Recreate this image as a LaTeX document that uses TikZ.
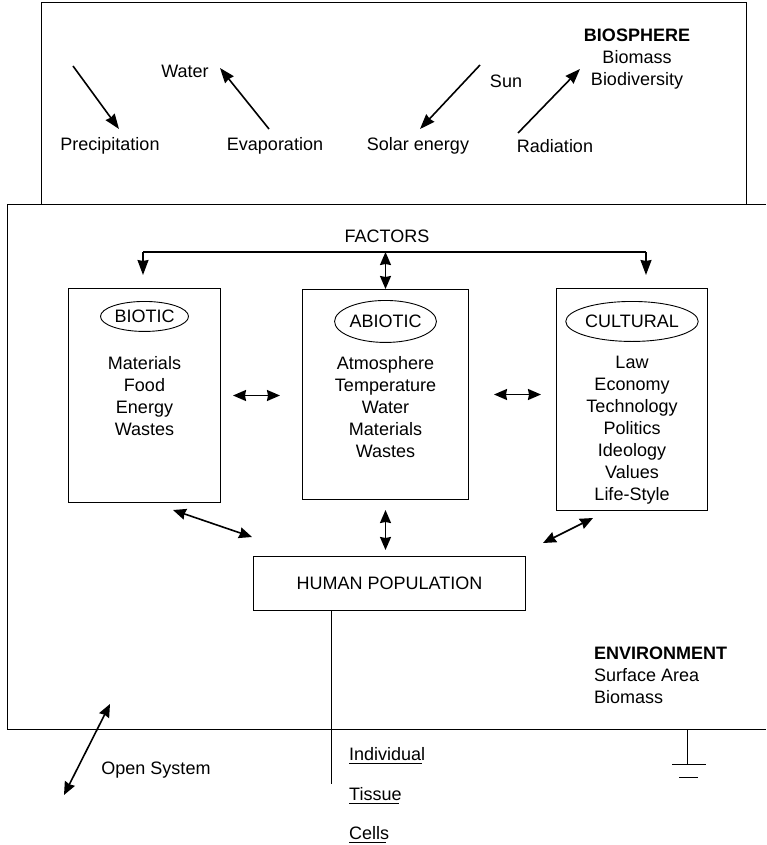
\documentclass[tikz,border=0pt]{standalone}
\usepackage{fontspec}
\setmainfont{Liberation Sans}
\usetikzlibrary{arrows.meta,positioning,shapes.geometric}

\begin{document}
\begin{tikzpicture}[
    x=1pt, y=-1pt,
    font=\fontsize{18}{22}\selectfont,
    frame/.style={line width=1pt},
    panel/.style={draw, line width=1pt, anchor=north west, inner sep=0pt},
    tag/.style={draw, ellipse, line width=0.9pt, inner sep=0pt},
    items/.style={align=center, inner sep=0pt},
    lbl/.style={inner sep=0pt},
    arr/.style={-{Stealth[length=15pt,width=11pt,inset=1pt]}, line width=1.6pt},
    dbl/.style={{Stealth[length=13pt,width=11pt,inset=1pt]}-{Stealth[length=13pt,width=11pt,inset=1pt]}, line width=1.6pt},
    uline/.style={line width=1.6pt, shorten >=3pt}
  ]
  \useasboundingbox (0,0) rectangle (766,845);

  % biosphere
  \draw[frame] (41,3) rectangle (746,204);
  \node[lbl] (water) at (185,71) {Water};
  \node[lbl] (precip) at (110,146) {Precipitation};
  \node[lbl] (evap) at (275,146) {Evaporation};
  \node[lbl] (sun) at (506,81) {Sun};
  \node[lbl] (solar) at (418,146) {Solar energy};
  \node[lbl] (rad) at (555,146) {Radiation};
  \node[lbl, align=center, anchor=north] (bio) at (637,29) {{\bfseries BIOSPHERE}\\Biomass\\Biodiversity};
  \coordinate (rainA) at (73,66);   \coordinate (rainB) at (119,129);
  \coordinate (evapA) at (269,129); \coordinate (evapB) at (220,68);
  \coordinate (sunA) at (480,65);   \coordinate (sunB) at (420,129);
  \coordinate (radA) at (518,133);  \coordinate (radB) at (580,69);
  \draw[arr] (rainA) -- (rainB);
  \draw[arr] (evapA) -- (evapB);
  \draw[arr] (sunA) -- (sunB);
  \draw[arr] (radA) -- (radB);

  % environment
  \draw[frame] (766,204) -| (7,729) -- (766,729);
  \node[lbl] (factors) at (387,236) {FACTORS};
  \node[panel, minimum width=152, minimum height=214] (biotic) at (68,288) {};
  \node[panel, minimum width=166, minimum height=210] (abiotic) at (302,289) {};
  \node[panel, minimum width=151, minimum height=222] (cultural) at (556,288) {};
  \node[tag, minimum width=88, minimum height=30, below=13pt of biotic.north] (bioticTag) {BIOTIC};
  \node[tag, minimum width=94, minimum height=42, below=11pt of abiotic.north] (abioticTag) {ABIOTIC};
  \node[tag, minimum width=110, minimum height=40, below=13pt of cultural.north] (culturalTag) {CULTURAL};
  \node[items, below=68pt of biotic.north] (bioticList) {Materials\\Food\\Energy\\Wastes};
  \node[items, below=67pt of abiotic.north] (abioticList) {Atmosphere\\Temperature\\Water\\Materials\\Wastes};
  \node[items, below=68pt of cultural.north] (culturalList) {Law\\Economy\\Technology\\Politics\\Ideology\\Values\\Life-Style};
  \node[panel, minimum width=272, minimum height=54] (hp) at (253,556) {HUMAN POPULATION};

  \coordinate (barL) at (143,252);
  \coordinate (barR) at (646,252);
  \draw[line width=1.2pt] (barL) -- (barR);
  \draw[arr, shorten >=13pt] (barL) -- (barL |- biotic.north);
  \draw[arr, shorten >=13pt] (barR) -- (barR |- cultural.north);
  \draw[dbl] (barL -| abiotic.north) -- (abiotic.north);
  \draw[dbl, shorten <=12pt, shorten >=22pt] (biotic.east) -- (biotic.east -| abiotic.west);
  \draw[dbl, shorten <=25pt, shorten >=15pt] (abiotic.east) -- (abiotic.east -| cultural.west);
  \draw[dbl, shorten <=10pt, shorten >=6pt] (abiotic.south) -- (abiotic.south |- hp.north);
  \coordinate (bioticOut) at (173,510); \coordinate (hpInL) at (252,537);
  \coordinate (culturalOut) at (593,518); \coordinate (hpInR) at (543,543);
  \draw[dbl] (bioticOut) -- (hpInL);
  \draw[dbl] (culturalOut) -- (hpInR);

  \node[lbl, align=left, anchor=west] (env) at (594,675) {{\bfseries ENVIRONMENT}\\Surface Area\\Biomass};

  % levels below
  \coordinate (stem) at (331,784);
  \draw[frame] (stem |- hp.south) -- (stem);
  \node[lbl, anchor=base west] (indiv) at (349,760) {Individual};
  \node[lbl, anchor=base west] (tissue) at (349,800) {Tissue};
  \node[lbl, anchor=base west] (cells) at (349,839) {Cells};
  \draw[uline] ([yshift=-3.5pt]indiv.base west) -- ([yshift=-3.5pt]indiv.base east);
  \draw[uline] ([yshift=-3.5pt]tissue.base west) -- ([yshift=-3.5pt]tissue.base east);
  \draw[uline] ([yshift=-3.5pt]cells.base west) -- ([yshift=-3.5pt]cells.base east);

  % open system
  \node[lbl] (open) at (156,770) {Open System};
  \coordinate (openA) at (110,704); \coordinate (openB) at (64,795);
  \draw[dbl] (openA) -- (openB);

  % ground
  \coordinate (gnd) at (687,764);
  \draw[frame] (gnd |- 0,729) -- (gnd);
  \draw[frame] (672,764) -- (706,764);
  \draw[frame] (679,777) -- (698,777);
\end{tikzpicture}
\end{document}
